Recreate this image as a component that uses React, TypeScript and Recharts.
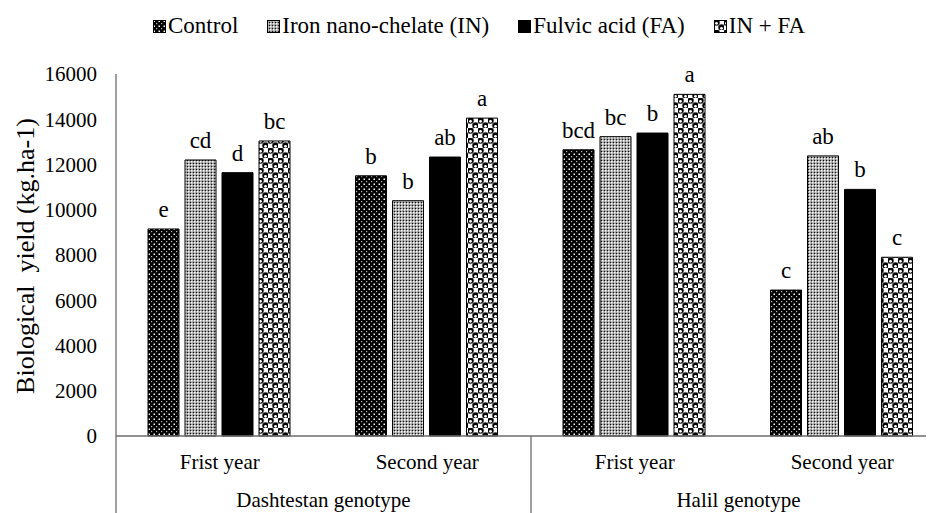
import { Bar, BarChart, LabelList, XAxis, YAxis } from "recharts"

const years = ["Frist year", "Second year", "Frist year", "Second year"]
const genotypes = ["Dashtestan genotype", "Halil genotype"]
const yTicks = [0, 2000, 4000, 6000, 8000, 10000, 12000, 14000, 16000]

const control = [9150, 11500, 12650, 6450]
const ironNano = [12200, 10400, 13230, 12380]
const fulvic = [11640, 12330, 13390, 10900]
const combined = [13040, 14050, 15100, 7900]

const controlLetters = ["e", "b", "bcd", "c"]
const ironNanoLetters = ["cd", "b", "bc", "ab"]
const fulvicLetters = ["d", "ab", "b", "b"]
const combinedLetters = ["bc", "a", "a", "c"]

const seriesNames = ["Control", "Iron nano-chelate (IN)", "Fulvic acid (FA)", "IN + FA"]
const seriesFills = ["url(#patControl)", "url(#patIN)", "#000", "url(#patINFA)"]

const chartData = years.map((year, i) => ({
  id: `c${i}`,
  year,
  control: control[i],
  ironNano: ironNano[i],
  fulvic: fulvic[i],
  combined: combined[i],
  controlL: controlLetters[i],
  ironNanoL: ironNanoLetters[i],
  fulvicL: fulvicLetters[i],
  combinedL: combinedLetters[i],
}))

const FONT = "Liberation Serif, DejaVu Serif, serif"
const AXIS = "#6d6d6d"

const CHART_W = 950
const CHART_H = 505
const MARGIN = { top: 66, right: 12, bottom: 7, left: 28 }
const Y_W = 80
const PLOT_W = CHART_W - MARGIN.left - MARGIN.right - Y_W
const BAND = PLOT_W / years.length

function Patterns() {
  return (
    <svg width={0} height={0} style={{ position: "absolute" }}>
      <defs>
        <pattern id="patControl" width={5} height={5} patternUnits="userSpaceOnUse">
          <rect width={5} height={5} fill="#000" />
          <rect x={0.5} y={0.5} width={1.5} height={1.5} fill="#fff" />
          <rect x={3} y={3} width={1.2} height={1.2} fill="#bbb" />
        </pattern>
        <pattern id="patIN" width={3} height={3} patternUnits="userSpaceOnUse">
          <rect width={3} height={3} fill="#9a9a9a" />
          <rect x={0} y={0} width={1.5} height={1.5} fill="#fff" />
          <rect x={2} y={2} width={1} height={1} fill="#111" />
        </pattern>
        <pattern id="patINFA" width={10} height={10} patternUnits="userSpaceOnUse">
          <rect width={10} height={10} fill="#fff" />
          <circle cx={2.5} cy={2.5} r={3.3} fill="#000" stroke="#888" strokeWidth={0.5} />
          <circle cx={7.5} cy={7.5} r={3.3} fill="#000" stroke="#888" strokeWidth={0.5} />
          <circle cx={2.5} cy={3.3} r={1.4} fill="#fff" />
          <circle cx={7.5} cy={8.3} r={1.4} fill="#fff" />
        </pattern>
      </defs>
    </svg>
  )
}

function CategoryTick(props: any) {
  const { x, y, index } = props
  const left = x - BAND / 2
  return (
    <g>
      <text x={x} y={y + 33} textAnchor="middle" fontFamily={FONT} fontSize={21} fill="#000">
        {years[index]}
      </text>
      {index % 2 === 0 && (
        <>
          <line x1={left} y1={y} x2={left} y2={y + 80} stroke={AXIS} strokeWidth={1.3} />
          <text x={left + BAND} y={y + 71} textAnchor="middle" fontFamily={FONT} fontSize={21} fill="#000">
            {genotypes[index / 2]}
          </text>
        </>
      )}
      {index === years.length - 1 && (
        <line x1={x + BAND / 2} y1={y} x2={x + BAND / 2} y2={y + 80} stroke={AXIS} strokeWidth={1.3} />
      )}
    </g>
  )
}

function LetterLabel(props: any) {
  const { x, y, width, value } = props
  return (
    <text x={x + width / 2} y={y - 12} textAnchor="middle" fontFamily={FONT} fontSize={23} fill="#000">
      {value}
    </text>
  )
}

function YTitle() {
  return (
    <text
      x={0}
      y={0}
      transform="translate(17 248) rotate(-90)"
      textAnchor="middle"
      dominantBaseline="central"
      fontFamily={FONT}
      fontSize={26}
      fill="#000"
      style={{ whiteSpace: "pre" }}
    >
      Biological  yield (kg.ha-1)
    </text>
  )
}

function TopLegend() {
  return (
    <div
      style={{
        position: "absolute",
        top: 5,
        left: 145,
        display: "flex",
        alignItems: "center",
        gap: 29,
        fontFamily: FONT,
        fontSize: 23,
        color: "#000",
        whiteSpace: "nowrap",
      }}
    >
      {seriesNames.map((name, i) => (
        <div key={name} style={{ display: "flex", alignItems: "center", gap: 2 }}>
          <svg width={13} height={13}>
            <rect x={0.5} y={0.5} width={12} height={12} fill={seriesFills[i]} stroke="#000" />
          </svg>
          <span>{name}</span>
        </div>
      ))}
    </div>
  )
}

export default function App() {
  return (
    <div style={{ position: "relative", width: 926, height: CHART_H, overflow: "hidden", background: "#fff" }}>
      <Patterns />
      <TopLegend />
      <BarChart
        width={CHART_W}
        height={CHART_H}
        data={chartData}
        margin={MARGIN}
        barCategoryGap={32}
        barGap={6}
      >
        <XAxis
          dataKey="id"
          height={70}
          tickLine={false}
          tickSize={0}
          tickMargin={0}
          axisLine={{ stroke: AXIS, strokeWidth: 1.3 }}
          tick={<CategoryTick />}
          interval={0}
        />
        <YAxis
          width={Y_W}
          domain={[0, 16000]}
          ticks={yTicks}
          tickLine={false}
          tickSize={0}
          tickMargin={19}
          axisLine={{ stroke: AXIS, strokeWidth: 1.3 }}
          tick={{ fontFamily: FONT, fontSize: 21, fill: "#000" }}
          label={<YTitle />}
        />
        <Bar dataKey="control" fill="url(#patControl)" stroke="#000" strokeWidth={1} isAnimationActive={false}>
          <LabelList dataKey="controlL" content={<LetterLabel />} />
        </Bar>
        <Bar dataKey="ironNano" fill="url(#patIN)" stroke="#000" strokeWidth={1} isAnimationActive={false}>
          <LabelList dataKey="ironNanoL" content={<LetterLabel />} />
        </Bar>
        <Bar dataKey="fulvic" fill="#000" stroke="#000" strokeWidth={1} isAnimationActive={false}>
          <LabelList dataKey="fulvicL" content={<LetterLabel />} />
        </Bar>
        <Bar dataKey="combined" fill="url(#patINFA)" stroke="#000" strokeWidth={1} isAnimationActive={false}>
          <LabelList dataKey="combinedL" content={<LetterLabel />} />
        </Bar>
      </BarChart>
    </div>
  )
}
